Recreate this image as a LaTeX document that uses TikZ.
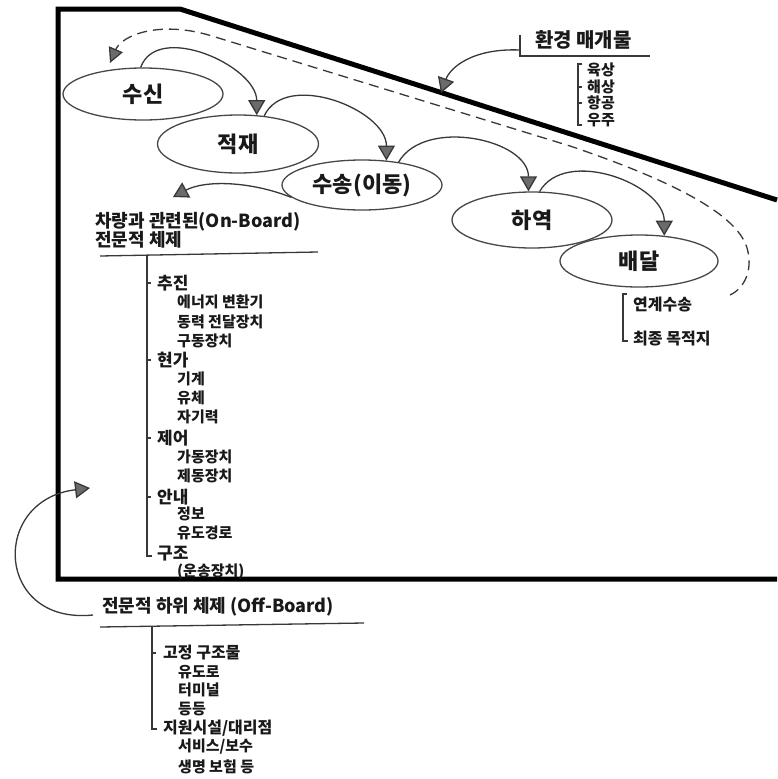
\documentclass[tikz,border=0pt]{standalone}
\usepackage{fontspec}
\setmainfont{Noto Sans CJK KR}
\usetikzlibrary{shapes.geometric,arrows.meta}
\begin{document}
\begin{tikzpicture}[x=1pt,y=-1pt,
  ln/.style={draw=black!78, line width=1.3pt},
  ell/.style={ellipse, draw=black!72, line width=1.3pt, inner sep=0pt,
    font=\fontsize{22}{24}\selectfont\bfseries, text=black!90},
  arr/.style={ln, -{Triangle[length=15pt,width=17pt,fill=black!58]}},
  darr/.style={ln, dash pattern=on 10pt off 6pt, -{Triangle[length=15pt,width=15pt,fill=black!58]}},
  frame/.style={draw=black, line width=5pt, line join=miter},
  txt/.style={anchor=west, inner sep=0pt, text=black!90},
  head/.style={txt, font=\fontsize{18}{20}\selectfont\bfseries},
  envh/.style={txt, font=\fontsize{20}{22}\selectfont\bfseries},
  main/.style={txt, font=\fontsize{17}{19}\selectfont\bfseries},
  sub/.style={txt, font=\fontsize{15}{17}\selectfont\bfseries},
  dl/.style={txt, font=\fontsize{16}{18}\selectfont\bfseries},
  tick/.style={draw=black!78, line width=1.1pt}
]
\useasboundingbox (0,0) rectangle (777,779);

% frame
\draw[frame] (777,200) -- (180,9) -- (58,9) -- (58,579) -- (777,579);

% process ellipses
\node[ell, minimum width=160pt, minimum height=52pt] (recv) at (143,94) {수신};
\node[ell, minimum width=161pt, minimum height=58pt] (load) at (238,144) {적재};
\node[ell, minimum width=160pt, minimum height=50pt] (trans) at (362,185) {수송(이동)};
\node[ell, minimum width=160pt, minimum height=56pt] (unload) at (532,220) {하역};
\node[ell, minimum width=158pt, minimum height=52pt] (deliv) at (639,261) {배달};

% process arrows
\draw[arr] (recv.95) to[out=70,in=90] (load.57);
\draw[arr] (load.47) to[out=65,in=90] (trans.45);
\draw[arr] (trans.32) to[out=60,in=90] (unload.97);
\draw[arr] (unload.75) to[out=60,in=90] (deliv.45);

% environment medium
\node[envh] (env) at (535,40) {환경 매개물};
\coordinate (envc) at (520,50);
\coordinate (envtip) at (441,93);
\draw[ln] (520,35) -- (520,56) -- (650,56);
\draw[ln] (582,64) -- (578,64) -- (578,125) -- (582,125);
\foreach \yy in {87,103} \draw[tick] (578,\yy) -- (582,\yy);
\node[sub] (land) at (587,70) {육상};
\node[sub] (sea) at (587,87) {해상};
\node[sub] (air) at (587,103) {항공};
\node[sub] (space) at (587,120) {우주};
\draw[arr] (envc) .. controls (472,48) and (450,68) .. (envtip);

% delivery list
\draw[ln] (627,294) -- (623,294) -- (623,341) -- (628,341);
\node[dl] (link) at (633,305) {연계수송};
\node[dl] (dest) at (633,339) {최종 목적지};

% dashed feedback
\coordinate (dstart) at (730,295);
\coordinate (dtip) at (110,63);
\draw[darr] (dstart) .. controls (745,288) and (752,270) .. (748,252)
  .. controls (742,218) and (682,184) .. (570,146) -- (212,36)
  .. controls (160,20) and (122,35) .. (dtip);

% on-board subsystem
\node[head] (ob1) at (95,222) {차량과 관련된(On-Board)};
\node[head] (ob2) at (95,240) {전문적 체제};
\coordinate (obtip) at (173,197);
\draw[arr] (trans.190) .. controls (250,181) and (205,180) .. (obtip);
\draw[ln] (100,256) -- (318,252);
\draw[ln] (147,255) -- (147,556) -- (152,556);
\foreach \yy in {283,360,438,497} \draw[tick] (147,\yy) -- (151,\yy);
\node[main] (prop) at (157,283) {추진};
\node[sub] (p1) at (177,302) {에너지 변환기};
\node[sub] (p2) at (177,322) {동력 전달장치};
\node[sub] (p3) at (177,341) {구동장치};
\node[main] (susp) at (157,360) {현가};
\node[sub] (s1) at (177,379) {기계};
\node[sub] (s2) at (177,398) {유체};
\node[sub] (s3) at (177,417) {자기력};
\node[main] (ctrl) at (157,438) {제어};
\node[sub] (c1) at (177,457) {가동장치};
\node[sub] (c2) at (177,476) {제동장치};
\node[main] (guid) at (157,497) {안내};
\node[sub] (g1) at (177,514) {정보};
\node[sub] (g2) at (177,533) {유도경로};
\node[main] (struc) at (157,554) {구조};
\node[sub] (st1) at (177,572) {(운송장치)};

% off-board subsystem
\node[head] (offb) at (102,607) {전문적 하위 체제 (Off-Board)};
\coordinate (offstart) at (93,615);
\coordinate (offtip) at (90,488);
\draw[arr] (offstart) .. controls (-5,625) and (-10,500) .. (offtip);
\draw[ln] (100,627) -- (364,623);
\draw[ln] (152,626) -- (152,729) -- (157,729);
\draw[tick] (152,653) -- (156,653);
\node[dl] (fix) at (163,653) {고정 구조물};
\node[sub] (f1) at (178,672) {유도로};
\node[sub] (f2) at (178,690) {터미널};
\node[sub] (f3) at (178,709) {등등};
\node[dl] (supp) at (163,728) {지원시설/대리점};
\node[sub] (u1) at (178,747) {서비스/보수};
\node[sub] (u2) at (178,767) {생명 보험 등};
\end{tikzpicture}
\end{document}
